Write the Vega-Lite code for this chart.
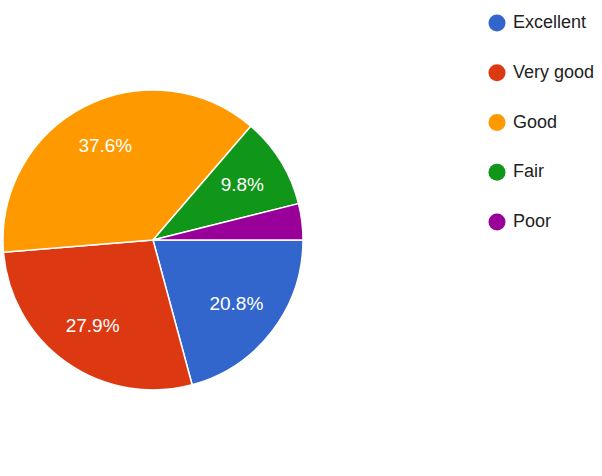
{
  "$schema": "https://vega.github.io/schema/vega-lite/v6.json",
  "width": 306,
  "height": 480,
  "padding": 0,
  "background": "white",
  "config": {"view": {"stroke": null}},
  "data": {
    "values": [
      {"rating": "Excellent", "pct": 20.8, "label": "20.8%", "rank": 1},
      {"rating": "Very good", "pct": 27.9, "label": "27.9%", "rank": 2},
      {"rating": "Good", "pct": 37.6, "label": "37.6%", "rank": 3},
      {"rating": "Fair", "pct": 9.8, "label": "9.8%", "rank": 4},
      {"rating": "Poor", "pct": 3.9, "label": "", "rank": 5}
    ]
  },
  "encoding": {
    "theta": {"field": "pct", "type": "quantitative", "stack": true, "scale": {"range": [1.5707963, 7.8539816]}},
    "order": {"field": "rank", "type": "quantitative"},
    "color": {
      "field": "rating",
      "type": "nominal",
      "scale": {"domain": ["Excellent", "Very good", "Good", "Fair", "Poor"], "range": ["#3366CC", "#DC3912", "#FF9900", "#109618", "#990099"]},
      "legend": {
        "title": null,
        "orient": "right",
        "offset": 168,
        "padding": 14,
        "symbolType": "circle",
        "symbolSize": 290,
        "symbolStrokeWidth": 0,
        "labelFont": "Liberation Sans, Arial, sans-serif",
        "labelFontSize": 18,
        "labelColor": "#222222",
        "labelOffset": 7,
        "rowPadding": 31.75,
        "labelLimit": 200
      }
    }
  },
  "layer": [
    {
      "mark": {"type": "arc", "outerRadius": 150, "stroke": "white", "strokeWidth": 1.5}
    },
    {
      "mark": {"type": "text", "radius": 105, "fontSize": 19, "font": "Liberation Sans, Arial, sans-serif"},
      "encoding": {
        "text": {"field": "label", "type": "nominal"},
        "color": {"value": "white"}
      }
    }
  ]
}
